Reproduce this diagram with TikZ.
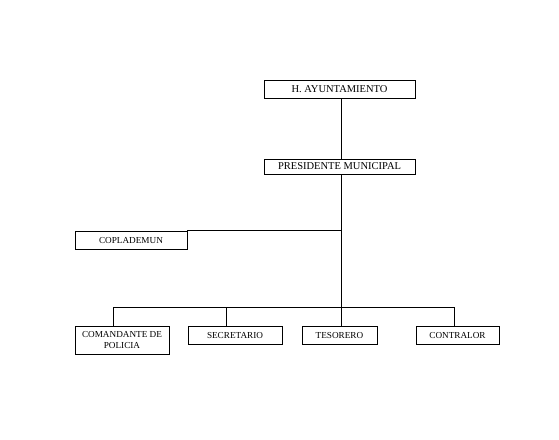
\documentclass[tikz,border=0pt]{standalone}
\usepackage{fontspec}
\setmainfont{Liberation Serif}
\usetikzlibrary{positioning}

\begin{document}
\begin{tikzpicture}[
    x=1pt, y=-1pt,
    every node/.style={font=\fontsize{10.5}{11.5}\selectfont},
    % Box styles
    unit/.style={rectangle, draw=black, line width=0.8pt, inner sep=0pt, align=center},
    smallunit/.style={unit, font=\fontsize{9.2}{10.5}\selectfont},
    % Line styles
    link/.style={line width=0.8pt}
]
\useasboundingbox (0,0) rectangle (559,439);

% Top levels
\node[unit, minimum width=151pt, minimum height=18pt] (ayun) at (339.5, 89) {H. AYUNTAMIENTO};
\node[unit, minimum width=151pt, minimum height=15pt] (pres) at (339.5, 166.5) {PRESIDENTE MUNICIPAL};

% Advisory body
\node[smallunit, minimum width=112pt, minimum height=18pt] (coplad) at (131, 240) {COPLADEMUN};

% Departments
\node[smallunit, minimum width=94pt, minimum height=28pt] (comand) at (122, 340) {COMANDANTE DE\\POLICIA};
\node[smallunit, minimum width=94pt, minimum height=18pt] (secre) at (235, 335) {SECRETARIO};
\node[smallunit, minimum width=75pt, minimum height=18pt] (tesor) at (339.5, 335) {TESORERO};
\node[smallunit, minimum width=83pt, minimum height=18pt] (contr) at (457.5, 335) {CONTRALOR};

% Bus points
\coordinate (bus1) at (113, 307);
\coordinate (bus2) at (226, 307);
\coordinate (bus3) at (341, 307);
\coordinate (bus4) at (454, 307);

% Connections
\draw[link] (ayun.south -| bus3) -- (pres.north -| bus3);
\draw[link] (pres.south -| bus3) -- (bus3);
\draw[link] (coplad.north east) -- (coplad.north east -| bus3);
\draw[link] (bus1) -- (bus4);
\draw[link] (bus1) -- (bus1 |- comand.north);
\draw[link] (bus2) -- (bus2 |- secre.north);
\draw[link] (bus3) -- (bus3 |- tesor.north);
\draw[link] (bus4) -- (bus4 |- contr.north);

\end{tikzpicture}
\end{document}
